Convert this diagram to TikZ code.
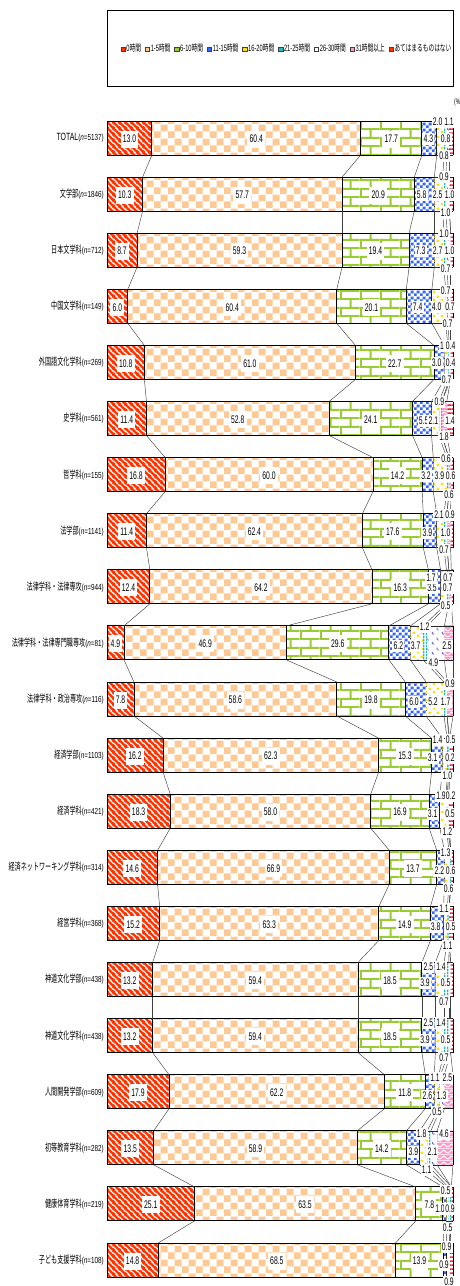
\documentclass[tikz,border=0pt]{standalone}
\usepackage{fontspec}
\setmainfont{Liberation Sans}[FakeStretch=0.62]
\newfontfamily\jpf{Noto Sans CJK JP}[FakeStretch=0.62]
\newfontfamily\jpl{Noto Sans CJK JP}[FakeStretch=0.6]
\newfontfamily\nfont{Liberation Sans}[FakeStretch=0.72]
\newfontfamily\tfont{Liberation Sans}[FakeStretch=0.66]
\usetikzlibrary{patterns}
\definecolor{c1}{HTML}{FF3300}
\definecolor{c2}{HTML}{FFC994}
\definecolor{c3}{HTML}{99CC33}
\definecolor{c4}{HTML}{3366FF}
\definecolor{c5}{HTML}{FFE100}
\definecolor{c6}{HTML}{22BBBB}
\definecolor{c7}{HTML}{6F6FD0}
\definecolor{c8}{HTML}{FF99CC}
\definecolor{c9}{HTML}{E0203A}
% patterns
\pgfdeclarepatterninherentlycolored{pat1}{\pgfqpoint{0pt}{0pt}}{\pgfqpoint{6pt}{6pt}}{\pgfqpoint{6pt}{6pt}}{%
  \pgfsetfillcolor{white}\pgfpathrectangle{\pgfqpoint{0pt}{0pt}}{\pgfqpoint{6pt}{6pt}}\pgfusepath{fill}%
  \pgfsetstrokecolor{c1}\pgfsetlinewidth{2.7pt}%
  \pgfpathmoveto{\pgfqpoint{-1pt}{7pt}}\pgfpathlineto{\pgfqpoint{7pt}{-1pt}}%
  \pgfpathmoveto{\pgfqpoint{-1pt}{1pt}}\pgfpathlineto{\pgfqpoint{1pt}{-1pt}}%
  \pgfpathmoveto{\pgfqpoint{5pt}{7pt}}\pgfpathlineto{\pgfqpoint{7pt}{5pt}}%
  \pgfusepath{stroke}}
\pgfdeclarepatterninherentlycolored{pat2}{\pgfqpoint{0pt}{0pt}}{\pgfqpoint{14pt}{14pt}}{\pgfqpoint{14pt}{14pt}}{%
  \pgfsetfillcolor{white}\pgfpathrectangle{\pgfqpoint{0pt}{0pt}}{\pgfqpoint{14pt}{14pt}}\pgfusepath{fill}%
  \pgfsetfillcolor{c2}%
  \pgfpathrectangle{\pgfqpoint{0pt}{0pt}}{\pgfqpoint{7pt}{7pt}}%
  \pgfpathrectangle{\pgfqpoint{7pt}{7pt}}{\pgfqpoint{7pt}{7pt}}\pgfusepath{fill}}
\pgfdeclarepatterninherentlycolored{pat3}{\pgfqpoint{0pt}{0pt}}{\pgfqpoint{20pt}{17pt}}{\pgfqpoint{20pt}{17pt}}{%
  \pgfsetfillcolor{white}\pgfpathrectangle{\pgfqpoint{0pt}{0pt}}{\pgfqpoint{20pt}{17pt}}\pgfusepath{fill}%
  \pgfsetstrokecolor{c3}\pgfsetlinewidth{2pt}%
  \pgfpathmoveto{\pgfqpoint{0pt}{1pt}}\pgfpathlineto{\pgfqpoint{20pt}{1pt}}%
  \pgfpathmoveto{\pgfqpoint{0pt}{9.5pt}}\pgfpathlineto{\pgfqpoint{20pt}{9.5pt}}%
  \pgfpathmoveto{\pgfqpoint{1pt}{1pt}}\pgfpathlineto{\pgfqpoint{1pt}{9.5pt}}%
  \pgfpathmoveto{\pgfqpoint{11pt}{9.5pt}}\pgfpathlineto{\pgfqpoint{11pt}{18pt}}%
  \pgfusepath{stroke}}
\pgfdeclarepatterninherentlycolored{pat4}{\pgfqpoint{0pt}{0pt}}{\pgfqpoint{6pt}{6pt}}{\pgfqpoint{6pt}{6pt}}{%
  \pgfsetfillcolor{white}\pgfpathrectangle{\pgfqpoint{0pt}{0pt}}{\pgfqpoint{6pt}{6pt}}\pgfusepath{fill}%
  \pgfsetfillcolor{c4}%
  \pgfpathrectangle{\pgfqpoint{0pt}{0pt}}{\pgfqpoint{3pt}{3pt}}%
  \pgfpathrectangle{\pgfqpoint{3pt}{3pt}}{\pgfqpoint{3pt}{3pt}}\pgfusepath{fill}}
\pgfdeclarepatterninherentlycolored{pat5}{\pgfqpoint{0pt}{0pt}}{\pgfqpoint{8pt}{8pt}}{\pgfqpoint{8pt}{8pt}}{%
  \pgfsetfillcolor{white}\pgfpathrectangle{\pgfqpoint{0pt}{0pt}}{\pgfqpoint{8pt}{8pt}}\pgfusepath{fill}%
  \pgfsetfillcolor{c5}%
  \pgfpathrectangle{\pgfqpoint{1pt}{1pt}}{\pgfqpoint{2.5pt}{2.5pt}}%
  \pgfpathrectangle{\pgfqpoint{5pt}{4.5pt}}{\pgfqpoint{2.5pt}{2.5pt}}\pgfusepath{fill}}
\pgfdeclarepatterninherentlycolored{pat6}{\pgfqpoint{0pt}{0pt}}{\pgfqpoint{3pt}{3pt}}{\pgfqpoint{3pt}{3pt}}{%
  \pgfsetfillcolor{white}\pgfpathrectangle{\pgfqpoint{0pt}{0pt}}{\pgfqpoint{3pt}{3pt}}\pgfusepath{fill}%
  \pgfsetfillcolor{c6}\pgfpathrectangle{\pgfqpoint{0pt}{0pt}}{\pgfqpoint{1.6pt}{3pt}}\pgfusepath{fill}}
\pgfdeclarepatterninherentlycolored{pat7}{\pgfqpoint{0pt}{0pt}}{\pgfqpoint{10pt}{10pt}}{\pgfqpoint{10pt}{10pt}}{%
  \pgfsetfillcolor{white}\pgfpathrectangle{\pgfqpoint{0pt}{0pt}}{\pgfqpoint{10pt}{10pt}}\pgfusepath{fill}%
  \pgfsetfillcolor{c7}%
  \pgfpathrectangle{\pgfqpoint{2pt}{2pt}}{\pgfqpoint{1.2pt}{2.5pt}}%
  \pgfpathrectangle{\pgfqpoint{3pt}{1.5pt}}{\pgfqpoint{1.5pt}{1pt}}%
  \pgfpathrectangle{\pgfqpoint{7pt}{6.5pt}}{\pgfqpoint{1.2pt}{2.5pt}}%
  \pgfpathrectangle{\pgfqpoint{8pt}{6pt}}{\pgfqpoint{1.5pt}{1pt}}\pgfusepath{fill}}
\pgfdeclarepatterninherentlycolored{pat8}{\pgfqpoint{0pt}{0pt}}{\pgfqpoint{8pt}{6pt}}{\pgfqpoint{8pt}{6pt}}{%
  \pgfsetfillcolor{c8}\pgfpathrectangle{\pgfqpoint{0pt}{0pt}}{\pgfqpoint{8pt}{6pt}}\pgfusepath{fill}%
  \pgfsetstrokecolor{white}\pgfsetlinewidth{1pt}%
  \pgfpathmoveto{\pgfqpoint{0pt}{1pt}}\pgfpathlineto{\pgfqpoint{4pt}{4.5pt}}\pgfpathlineto{\pgfqpoint{8pt}{1pt}}\pgfusepath{stroke}}
\pgfdeclarepatterninherentlycolored{pat9}{\pgfqpoint{0pt}{0pt}}{\pgfqpoint{4pt}{4pt}}{\pgfqpoint{4pt}{4pt}}{%
  \pgfsetfillcolor{white}\pgfpathrectangle{\pgfqpoint{0pt}{0pt}}{\pgfqpoint{4pt}{4pt}}\pgfusepath{fill}%
  \pgfsetfillcolor{c9}\pgfpathrectangle{\pgfqpoint{0pt}{0pt}}{\pgfqpoint{4pt}{2pt}}\pgfusepath{fill}}
\tikzset{
  segline/.style={draw=black,line width=0.9pt},
  thinseg/.style={draw=black!85,line width=0.5pt},
  series/.style={draw=black!75,line width=0.45pt},
  vlab/.style={fill=white,inner xsep=1.4pt,inner ysep=2pt,font=\fontsize{11}{12}\selectfont},
  biglab/.style={vlab,inner xsep=2.2pt,minimum height=17pt},
  rowlab/.style={anchor=east,inner sep=0pt},
  legendbox/.style={draw=black,line width=1pt},
}
\newcommand\rl[2]{{\jpl\fontsize{10.2}{11}\selectfont #1}{\nfont\fontsize{8.8}{10}\selectfont(\textit{n}=#2)}}
\newcommand\lm[1]{{\setlength\fboxsep{0pt}\setlength\fboxrule{0.5pt}\fcolorbox{black!75}{#1}{\rule{0pt}{3.8pt}\hspace{3.8pt}}}\hspace{1pt}}
\newcommand\jh{{\jpf 時間}}
\newcommand\chartrow[3]{%
  \pgfmathsetmacro\cy{138+(#1-1)*56.1}%
  \xdef\rowtot{0}%
  \foreach \v in {#2}{\pgfmathparse{\rowtot+\v}\xdef\rowtot{\pgfmathresult}}%
  \xdef\cum{0}%
  \foreach \v [count=\k] in {#2}{%
    \pgfmathsetmacro\xa{107+(\cum/\rowtot)*346}%
    \pgfmathparse{\cum+\v}\xdef\cum{\pgfmathresult}%
    \pgfmathsetmacro\xb{107+(\cum/\rowtot)*346}%
    \coordinate (r#1t\k) at (\xb,\cy-17);%
    \coordinate (r#1b\k) at (\xb,\cy+17);%
    \coordinate (r#1m\k) at ({(\xa+\xb)/2},\cy+1);%
    \expandafter\xdef\csname val#1-\k\endcsname{\v}%
    \ifdim\v pt>0pt
      \path[pattern=pat\k] (\xa,\cy-17) rectangle (\xb,\cy+17);%
      \ifnum\k<5
        \draw[segline] (\xa,\cy-17) rectangle (\xb,\cy+17);%
      \else
        \draw[thinseg] (\xa,\cy-17) -- (\xb,\cy-17) (\xa,\cy+17) -- (\xb,\cy+17);%
      \fi
    \fi
  }%
  \draw[segline] (453,\cy-17) -- (453,\cy+17);%
  \node[rowlab] (name#1) at (104,\cy) {#3};%
}
\begin{document}
\begin{tikzpicture}[x=1pt,y=-1pt]
\useasboundingbox (0,0) rectangle (460,1286);
% legend
\draw[legendbox] (107.5,10) rectangle (453.5,86.5);
\node[inner sep=0pt,font=\fontsize{9.2}{10}\selectfont] (legend) at (286,48) {%
\lm{c1}0\jh\hspace{4pt}\lm{c2}1-5\jh\hspace{4pt}\lm{c3}6-10\jh\hspace{4pt}\lm{c4}11-15\jh\hspace{4pt}\lm{c5}16-20\jh\hspace{4pt}\lm{c6}21-25\jh\hspace{4pt}\lm{white}26-30\jh\hspace{4pt}\lm{c8}31{\jpf 時間以上}\hspace{4pt}\lm{c1}{\jpf あてはまるものはない}};
\node[anchor=west,inner sep=0pt,font=\fontsize{8}{9}\selectfont] (unit) at (454,102) {(\%)};
% bars
\chartrow{1}{13.0,60.4,17.7,4.3,2.0,0.8,0.8,0.0,1.1}{{\tfont\fontsize{10.5}{11}\selectfont TOTAL}{\nfont\fontsize{8.8}{10}\selectfont(\textit{n}=5137)}}
\chartrow{2}{10.3,57.7,20.9,5.8,2.5,0.9,1.0,0.0,1.0}{\rl{文学部}{1846}}
\chartrow{3}{8.7,59.3,19.4,7.3,2.7,1.0,1.0,0.0,0.7}{\rl{日本文学科}{712}}
\chartrow{4}{6.0,60.4,20.1,7.4,4.0,0.7,0.7,0.0,0.7}{\rl{中国文学科}{149}}
\chartrow{5}{10.8,61.0,22.7,3.0,1.0,0.4,0.4,0.0,0.7}{\rl{外国語文化学科}{269}}
\chartrow{6}{11.4,52.8,24.1,5.5,2.1,0.9,0.0,1.4,1.8}{\rl{史学科}{561}}
\chartrow{7}{16.8,60.0,14.2,3.2,3.9,0.6,0.0,0.6,0.6}{\rl{哲学科}{155}}
\chartrow{8}{11.4,62.4,17.6,3.9,2.1,0.9,0.0,1.0,0.7}{\rl{法学部}{1141}}
\chartrow{9}{12.4,64.2,16.3,3.5,1.7,0.7,0.0,0.7,0.5}{\rl{法律学科・法律専攻}{944}}
\chartrow{10}{4.9,46.9,29.6,6.2,3.7,1.2,4.9,2.5,0.0}{\rl{法律学科・法律専門職専攻}{81}}
\chartrow{11}{7.8,58.6,19.8,6.0,5.2,0.9,0.0,1.7,0.0}{\rl{法律学科・政治専攻}{116}}
\chartrow{12}{16.2,62.3,15.3,3.1,1.4,0.5,0.2,0.0,1.0}{\rl{経済学部}{1103}}
\chartrow{13}{18.3,58.0,16.9,3.1,1.9,0.2,0.5,0.0,1.2}{\rl{経済学科}{421}}
\chartrow{14}{14.6,66.9,13.7,2.2,1.3,0.6,0.0,0.0,0.6}{\rl{経済ネットワーキング学科}{314}}
\chartrow{15}{15.2,63.3,14.9,3.8,1.1,0.5,0.0,0.0,1.1}{\rl{経営学科}{368}}
\chartrow{16}{13.2,59.4,18.5,3.9,2.5,1.4,0.5,0.0,0.7}{\rl{神道文化学部}{438}}
\chartrow{17}{13.2,59.4,18.5,3.9,2.5,1.4,0.5,0.0,0.7}{\rl{神道文化学科}{438}}
\chartrow{18}{17.9,62.2,11.8,2.6,1.3,0.5,1.1,2.5,0.0}{\rl{人間開発学部}{609}}
\chartrow{19}{13.5,58.9,14.2,3.9,2.1,1.1,1.8,4.6,0.0}{\rl{初等教育学科}{282}}
\chartrow{20}{25.1,63.5,7.8,1.0,0.5,0.9,0.0,0.0,0.5}{\rl{健康体育学科}{219}}
\chartrow{21}{14.8,68.5,13.9,0.9,0.9,0.0,0.0,0.0,0.9}{\rl{子ども支援学科}{108}}
% series lines
\foreach \i in {1,...,20}{
  \pgfmathtruncatemacro\j{\i+1}
  \foreach \k in {1,...,8}{\draw[series] (r\i b\k) -- (r\j t\k);}
}
% labels of the three large segments
\foreach \i in {1,...,21}{
  \foreach \k in {1,2,3}{\node[biglab] (lab\i-\k) at (r\i m\k) {\csname val\i-\k\endcsname};}
}
% labels of the small segments
\foreach \x/\y/\t [count=\n] in {
 428.3/139/4.3, 437.7/122/2.0, 449/122/1.1, 445.7/139/0.8, 444/156/0.8,
 421.7/195/5.8, 444/177/0.9, 437.7/195/2.5, 449.7/195/1.0, 445.7/213/1.0,
 420.7/251/7.3, 444/234/1.0, 437.7/251/2.7, 449.7/251/1.0, 445.7/269/0.7,
 417.7/307/7.4, 445.7/291/0.7, 436.7/307/4.0, 450/307/0.7, 447.7/324/0.7,
 442/346/1, 450.7/346/0.4, 436.7/363/3.0, 450.7/363/0.4, 446.7/380/0.7,
 423.7/421/5.5, 439.3/402/0.9, 433.3/421/2.1, 450/421/1.4, 444/437/1.8,
 426/476/3.2, 446/459/0.6, 439.3/476/3.9, 450.7/476/0.6, 449/495/0.6,
 427.3/533/3.9, 439/515/2.1, 450/515/0.9, 445.7/533/1.0, 444/550/0.7,
 432/588/3.5, 431/578/1.7, 448/578/0.7, 447.7/588/0.7, 445.7/606/0.5,
 398.3/646/6.2, 424.7/627/1.2, 415.7/646/3.7, 447/646/2.5, 433.3/663/4.9,
 414/702/6.0, 450/684/0.9, 433/702/5.2, 445.7/702/1.7,
 432.7/758/3.1, 437.7/740/1.4, 450.7/740/0.5, 450/758/0.2, 447.3/776/1.0,
 432.7/814/3.1, 441/796/1.9, 450.7/796/0.2, 450/814/0.5, 447.3/832/1.2,
 439.3/871/2.2, 445.7/853/1.3, 450.7/871/0.6, 448.7/889/0.6,
 435.7/927/3.8, 444/909/1.1, 450.7/927/0.5, 447.7/946/1.1,
 425/983/3.9, 428.3/967/2.5, 441/967/1.4, 445.7/983/0.5, 444/1002/0.7,
 425/1040/3.9, 428.3/1023/2.5, 441/1023/1.4, 445.7/1040/0.5, 444/1058/0.7,
 427.3/1096/2.6, 435/1078/1.1, 447.3/1078/2.5, 441.7/1096/1.3, 437/1112/0.5,
 413.3/1152/3.9, 421.7/1134/1.8, 444/1134/4.6, 432.3/1152/2.1, 426.7/1170/1.1,
 440/1209/1.0, 445.7/1191/0.5, 450/1209/0.9, 447.7/1228/0.5,
 446.7/1247/0.9, 444/1265/0.9, 449/1282/0.9}{
  \node[vlab] (s\n) at (\x,\y) {\t};
}
\end{tikzpicture}
\end{document}
